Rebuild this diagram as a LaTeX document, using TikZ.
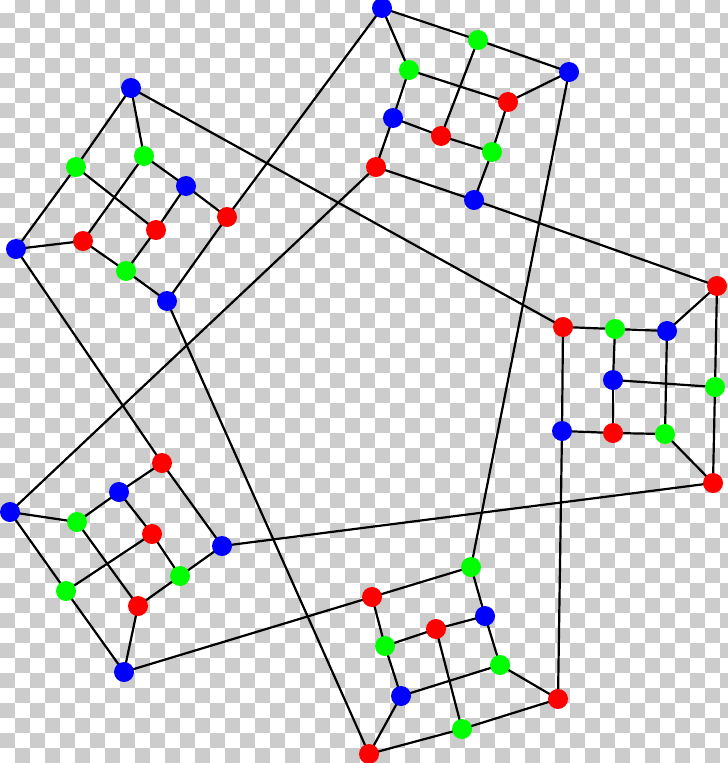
\documentclass[tikz,border=0pt]{standalone}
\pgfdeclarelayer{chk}
\pgfdeclarelayer{edges}
\pgfsetlayers{chk,edges,main}
\begin{document}
\begin{tikzpicture}[x=1pt,y=-1pt,
  vb/.style={circle,inner sep=0pt,minimum size=20pt,fill={rgb,255:red,0;green,0;blue,255}},
  vr/.style={circle,inner sep=0pt,minimum size=20pt,fill={rgb,255:red,255;green,0;blue,0}},
  vg/.style={circle,inner sep=0pt,minimum size=20pt,fill={rgb,255:red,0;green,255;blue,0}},
  ed/.style={line width=2.2pt,black}]
\useasboundingbox (0,0) rectangle (728,763);
\begin{pgfonlayer}{chk}
\begin{scope}
\clip (0,0) rectangle (728,763);
\fill[white] (0,0) rectangle (728,763);
\foreach \r in {0,...,51}{
  \foreach \c in {0,...,48}{
    \pgfmathtruncatemacro{\parity}{mod(\r+\c,2)}
    \ifnum\parity=1
      \fill[black!20] ({15*\c},{15*\r-2}) rectangle ({15*\c+15},{15*\r+13});
    \fi
  }
}
\end{scope}
\end{pgfonlayer}
% cluster A
\node[vb] (A1) at (131,88) {};
\node[vg] (A2) at (76,167) {};
\node[vg] (A3) at (144,156) {};
\node[vb] (A4) at (186,186) {};
\node[vr] (A5) at (227,217) {};
\node[vr] (A6) at (156,230) {};
\node[vb] (A7) at (16,249) {};
\node[vr] (A8) at (83,241) {};
\node[vg] (A9) at (126,271) {};
\node[vb] (A10) at (167,301) {};
% cluster B
\node[vb] (B1) at (382,8) {};
\node[vg] (B2) at (478,40) {};
\node[vb] (B3) at (569,72) {};
\node[vg] (B4) at (409,70) {};
\node[vr] (B5) at (508,102) {};
\node[vb] (B6) at (393,118) {};
\node[vr] (B7) at (441,136) {};
\node[vg] (B8) at (492,152) {};
\node[vr] (B9) at (376,167) {};
\node[vb] (B10) at (474,200) {};
% cluster C
\node[vr] (C1) at (717,286) {};
\node[vr] (C2) at (563,327) {};
\node[vg] (C3) at (615,329) {};
\node[vb] (C4) at (667,331) {};
\node[vb] (C5) at (613,380) {};
\node[vg] (C6) at (715,387) {};
\node[vb] (C7) at (562,431) {};
\node[vr] (C8) at (613,433) {};
\node[vg] (C9) at (665,434) {};
\node[vr] (C10) at (713,483) {};
% cluster D
\node[vg] (D1) at (471,567) {};
\node[vr] (D2) at (372,597) {};
\node[vb] (D3) at (485,616) {};
\node[vr] (D4) at (436,629) {};
\node[vg] (D5) at (385,646) {};
\node[vg] (D6) at (500,665) {};
\node[vb] (D7) at (401,696) {};
\node[vr] (D8) at (558,699) {};
\node[vg] (D9) at (462,729) {};
\node[vr] (D10) at (369,754) {};
% cluster E
\node[vr] (E1) at (162,463) {};
\node[vb] (E2) at (119,492) {};
\node[vb] (E3) at (10,512) {};
\node[vg] (E4) at (77,522) {};
\node[vr] (E5) at (152,534) {};
\node[vb] (E6) at (222,546) {};
\node[vg] (E7) at (180,576) {};
\node[vg] (E8) at (66,591) {};
\node[vr] (E9) at (138,606) {};
\node[vb] (E10) at (124,672) {};
\begin{pgfonlayer}{edges}
\foreach \a/\b in {A1/A2,A1/A3,A1/C2,A2/A7,A2/A6,A3/A8,A3/A4,A4/A5,A4/A6,A5/A10,A5/B1,A6/A9,A7/A8,A7/E1,A8/A9,A9/A10,A10/D10,
  B1/B2,B1/B4,B2/B3,B2/B7,B3/B5,B3/D1,B4/B5,B4/B6,B5/B8,B6/B7,B6/B9,B7/B8,B8/B10,B9/B10,B9/E3,B10/C1,
  C1/C4,C1/C6,C6/C10,C2/C3,C2/C7,C3/C4,C3/C5,C4/C9,C5/C6,C5/C8,C7/C8,C7/D8,C8/C9,C9/C10,C10/E6,
  D1/D2,D1/D3,D2/D5,D2/E10,D3/D4,D3/D6,D4/D5,D4/D9,D5/D7,D6/D7,D6/D8,D7/D10,D8/D9,D9/D10,
  E1/E2,E1/E6,E2/E4,E2/E5,E3/E4,E3/E8,E4/E9,E5/E7,E5/E8,E6/E7,E7/E9,E8/E10,E9/E10}
  {\draw[ed] (\a.center) -- (\b.center);}
\end{pgfonlayer}
\end{tikzpicture}
\end{document}
